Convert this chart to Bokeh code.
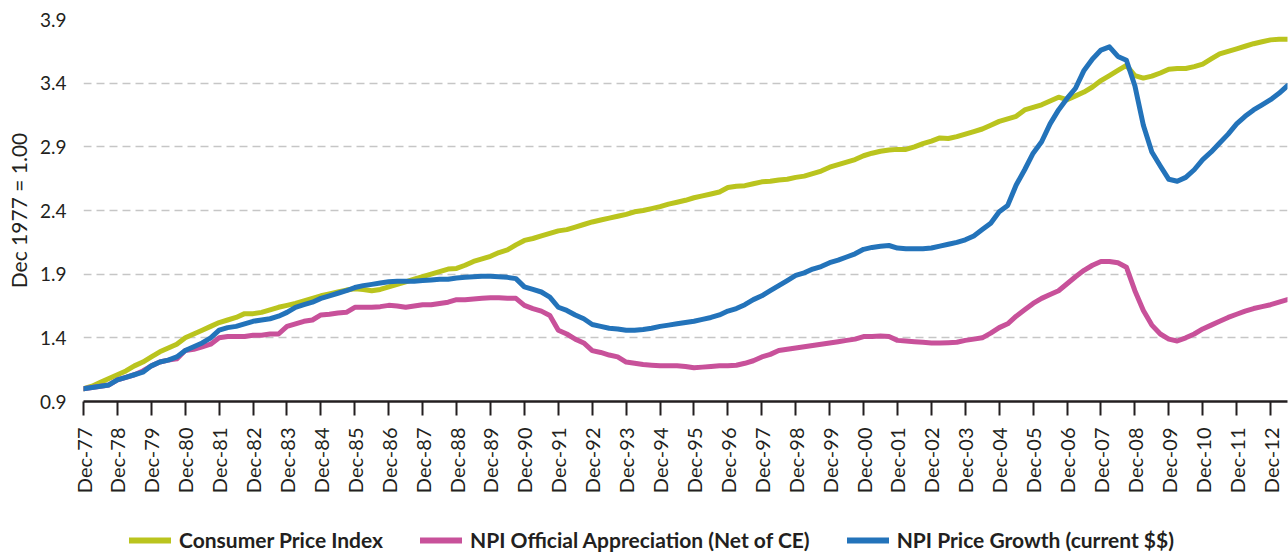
import math
from bokeh.plotting import figure
from bokeh.layouts import column
from bokeh.models import FixedTicker, Legend, LegendItem, Range1d
from bokeh.embed import file_html
from bokeh.resources import INLINE

# Tick labels (December of each year)
tick_years = list(range(1977, 2013))
tick_labels = ["Dec-%02d" % (y % 100) for y in tick_years]
y_ticks = [0.9, 1.4, 1.9, 2.4, 2.9, 3.4, 3.9]

# Quarterly series, Dec-1977 .. Jun-2013 (each row: Dec, Mar, Jun, Sep)
cpi = [
    1.00, 1.02, 1.05, 1.08,
    1.11, 1.14, 1.18, 1.21,
    1.25, 1.29, 1.32, 1.35,
    1.40, 1.43, 1.46, 1.49,
    1.52, 1.54, 1.56, 1.59,
    1.59, 1.60, 1.62, 1.64,
    1.655, 1.67, 1.69, 1.71,
    1.73, 1.745, 1.76, 1.775,
    1.785, 1.78, 1.77, 1.78,
    1.80, 1.82, 1.84, 1.86,
    1.88, 1.90, 1.92, 1.94,
    1.945, 1.97, 2.00, 2.02,
    2.04, 2.07, 2.09, 2.13,
    2.165, 2.18, 2.20, 2.22,
    2.24, 2.25, 2.27, 2.29,
    2.31, 2.325, 2.34, 2.355,
    2.37, 2.39, 2.40, 2.415,
    2.43, 2.45, 2.465, 2.48,
    2.50, 2.515, 2.53, 2.545,
    2.58, 2.59, 2.595, 2.61,
    2.625, 2.63, 2.64, 2.645,
    2.66, 2.67, 2.69, 2.71,
    2.74, 2.76, 2.78, 2.80,
    2.83, 2.85, 2.865, 2.875,
    2.88, 2.88, 2.90, 2.925,
    2.945, 2.97, 2.965, 2.98,
    3.00, 3.02, 3.04, 3.07,
    3.10, 3.12, 3.14, 3.19,
    3.21, 3.23, 3.26, 3.29,
    3.27, 3.30, 3.33, 3.37,
    3.42, 3.46, 3.50, 3.54,
    3.46, 3.44, 3.455, 3.48,
    3.51, 3.515, 3.515, 3.53,
    3.55, 3.59, 3.63, 3.65,
    3.67, 3.69, 3.71, 3.725,
    3.74, 3.745, 3.745,
]

npi_official = [
    1.00, 1.01, 1.02, 1.03,
    1.07, 1.09, 1.11, 1.14,
    1.18, 1.21, 1.225, 1.235,
    1.30, 1.31, 1.33, 1.35,
    1.40, 1.41, 1.41, 1.41,
    1.42, 1.42, 1.43, 1.43,
    1.49, 1.51, 1.53, 1.54,
    1.58, 1.585, 1.595, 1.60,
    1.64, 1.64, 1.64, 1.645,
    1.655, 1.65, 1.64, 1.65,
    1.66, 1.66, 1.67, 1.68,
    1.70, 1.70, 1.705, 1.71,
    1.715, 1.715, 1.71, 1.71,
    1.655, 1.63, 1.61, 1.575,
    1.46, 1.43, 1.39, 1.36,
    1.30, 1.285, 1.265, 1.25,
    1.21, 1.20, 1.19, 1.185,
    1.18, 1.18, 1.18, 1.175,
    1.165, 1.17, 1.175, 1.18,
    1.18, 1.185, 1.20, 1.22,
    1.25, 1.27, 1.30, 1.31,
    1.32, 1.33, 1.34, 1.35,
    1.36, 1.37, 1.38, 1.39,
    1.41, 1.41, 1.415, 1.41,
    1.38, 1.375, 1.37, 1.365,
    1.36, 1.36, 1.362, 1.365,
    1.38, 1.39, 1.40, 1.437,
    1.48, 1.51, 1.57, 1.62,
    1.67, 1.71, 1.74, 1.77,
    1.825, 1.88, 1.93, 1.97,
    2.00, 2.00, 1.99, 1.955,
    1.77, 1.615, 1.50, 1.43,
    1.39, 1.375, 1.40, 1.43,
    1.47, 1.50, 1.53, 1.56,
    1.585, 1.61, 1.63, 1.645,
    1.66, 1.68, 1.70,
]

npi_price = [
    1.00, 1.01, 1.02, 1.03,
    1.07, 1.09, 1.11, 1.13,
    1.18, 1.21, 1.225, 1.25,
    1.30, 1.33, 1.36, 1.40,
    1.46, 1.48, 1.49, 1.51,
    1.53, 1.54, 1.55, 1.57,
    1.60, 1.64, 1.66, 1.68,
    1.71, 1.73, 1.75, 1.77,
    1.795, 1.81, 1.82, 1.83,
    1.84, 1.845, 1.845, 1.845,
    1.85, 1.855, 1.86, 1.86,
    1.87, 1.875, 1.88, 1.883,
    1.883, 1.88, 1.875, 1.865,
    1.80, 1.78, 1.76, 1.72,
    1.64, 1.615, 1.58, 1.55,
    1.505, 1.49, 1.475, 1.47,
    1.46, 1.46, 1.465, 1.475,
    1.49, 1.50, 1.51, 1.52,
    1.53, 1.545, 1.56, 1.58,
    1.61, 1.63, 1.66, 1.70,
    1.73, 1.77, 1.81, 1.85,
    1.89, 1.91, 1.94, 1.96,
    1.99, 2.01, 2.035, 2.06,
    2.095, 2.11, 2.12, 2.125,
    2.105, 2.10, 2.10, 2.10,
    2.105, 2.12, 2.135, 2.15,
    2.17, 2.20, 2.25, 2.30,
    2.39, 2.44, 2.60, 2.72,
    2.85, 2.94, 3.08, 3.19,
    3.28, 3.36, 3.50, 3.59,
    3.66, 3.685, 3.61, 3.58,
    3.38, 3.07, 2.86, 2.75,
    2.645, 2.63, 2.66, 2.72,
    2.80, 2.86, 2.93, 3.00,
    3.08, 3.14, 3.19, 3.23,
    3.27, 3.32, 3.38,
]

series_names = ["Consumer Price Index", "NPI Official Appreciation (Net of CE)",
                "NPI Price Growth (current $$)"]
colors = ["#BAC41E", "#C8519A", "#2373BA"]
series = [cpi, npi_official, npi_price]

n = len(cpi)
x = [i / 4 for i in range(n)]  # years since Dec 1977 (quarterly)

FONT = "Lato"
TEXT = "#231f20"

p = figure(width=1288, height=501, output_backend="svg", toolbar_location=None,
           x_range=Range1d(0, (n - 1) / 4), y_range=Range1d(0.9, 3.9),
           min_border_left=83, min_border_right=1, min_border_top=19,
           min_border_bottom=100)
p.outline_line_color = None

# grid
p.xgrid.visible = False
p.ygrid.ticker = FixedTicker(ticks=y_ticks[1:])
p.ygrid.grid_line_color = "#c6c6c6"
p.ygrid.grid_line_dash = "8 5"
p.ygrid.grid_line_width = 1.5

# y axis
p.yaxis.ticker = FixedTicker(ticks=y_ticks)
p.yaxis.axis_line_color = None
p.yaxis.major_tick_line_color = None
p.yaxis.minor_tick_line_color = None
p.yaxis.major_label_standoff = 11
p.yaxis.major_label_text_font = FONT
p.yaxis.major_label_text_font_size = "19px"
p.yaxis.major_label_text_color = TEXT
p.yaxis.axis_label = "Dec 1977 = 1.00"
p.yaxis.axis_label_text_font = FONT
p.yaxis.axis_label_text_font_style = "normal"
p.yaxis.axis_label_text_font_size = "21px"
p.yaxis.axis_label_text_color = TEXT
p.yaxis.axis_label_standoff = 6

# x axis
p.xaxis.ticker = FixedTicker(ticks=list(range(len(tick_labels))))
p.xaxis.major_label_overrides = {i: lab for i, lab in enumerate(tick_labels)}
p.xaxis.major_label_orientation = math.pi / 2
p.xaxis.major_label_text_font = FONT
p.xaxis.major_label_text_font_size = "20px"
p.xaxis.major_label_text_color = TEXT
p.xaxis.major_label_standoff = 12
p.xaxis.axis_line_color = TEXT
p.xaxis.axis_line_width = 2.5
p.xaxis.major_tick_line_color = TEXT
p.xaxis.major_tick_line_width = 2
p.xaxis.major_tick_in = 0
p.xaxis.major_tick_out = 14
p.xaxis.minor_tick_line_color = None

for vals, c in zip(series, colors):
    p.line(x, vals, line_color=c, line_width=5, line_join="round", line_cap="round")

# legend strip below the chart (its lines sit outside its visible range)
lg = figure(width=1288, height=51, output_backend="svg", toolbar_location=None,
            x_axis_type=None, y_axis_type=None,
            x_range=Range1d(0, (n - 1) / 4), y_range=Range1d(-2, -1),
            min_border_left=0, min_border_right=0, min_border_top=0,
            min_border_bottom=0)
lg.outline_line_color = None
lg.xgrid.visible = False
lg.ygrid.visible = False
items = []
for nm, vals, c in zip(series_names, series, colors):
    r = lg.line(x, vals, line_color=c, line_width=6, line_cap="round")
    items.append(LegendItem(label=nm, renderers=[r]))
legend = Legend(
    items=items, orientation="horizontal", location=(46, 0),
    label_text_font=FONT, label_text_font_style="bold", label_text_font_size="21px",
    label_text_color=TEXT,
    glyph_width=42, glyph_height=20, label_height=20, label_standoff=8, spacing=37,
    padding=0, margin=0, border_line_color=None, background_fill_alpha=0,
)
lg.add_layout(legend, "center")

layout = column(p, lg, spacing=0)
open("out.html", "w").write(file_html(layout, INLINE))
